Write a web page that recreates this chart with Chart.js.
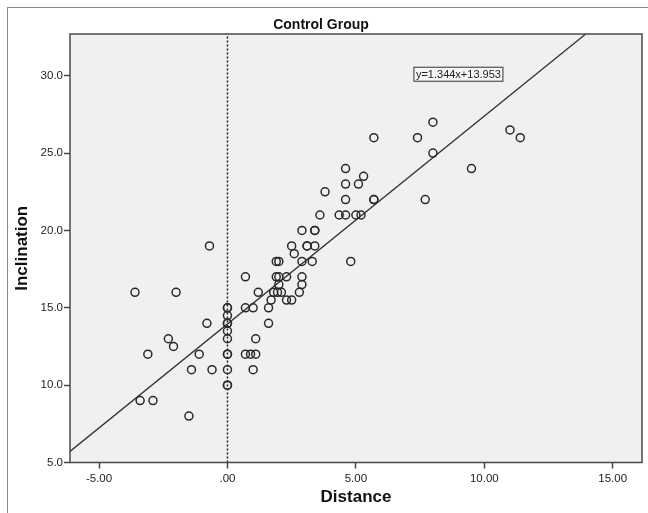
<!DOCTYPE html>
<html>
<head>
<meta charset="utf-8">
<script src="https://cdn.jsdelivr.net/npm/chart.js@4/dist/chart.umd.min.js"></script>
<style>
  html, body { margin: 0; padding: 0; background: #fff; overflow: hidden; }
  #wrap { position: relative; width: 648px; height: 513px; }
  #frame { position: absolute; left: 7px; top: 7px; width: 700px; height: 600px; border: 1px solid #8a8a8a; }
  canvas { position: absolute; left: 0; top: 0; }
</style>
</head>
<body>
<div id="wrap">
  <div id="frame"></div>
  <canvas id="scatterChart" width="648" height="513"></canvas>
</div>
<script>
// values
const distance = [
  -3.6, -2.0, -0.8, -0.7, -2.3, -2.1, -3.1, -1.1, -1.4, -0.6, -3.4, -2.9, -1.5,
  0, 0, 0, 0, 0, 0, 0, 0, 0, 0, 0, 0,
  0.7, 1.2, 0.7, 1.0, 1.6, 1.6, 1.1, 0.7, 0.9, 1.1, 1.0,
  5.7, 4.6, 5.3, 4.6, 5.1, 3.8, 4.6, 5.7, 5.7, 3.6, 4.35, 4.6, 5.0, 5.2,
  2.9, 3.4, 3.4, 2.5, 3.1, 3.1, 3.4, 2.6, 1.9, 2.0, 2.9, 3.3, 4.8,
  1.9, 2.0, 2.3, 2.9, 2.0, 2.9, 1.8, 1.95, 2.1, 2.8, 1.7, 2.3, 2.5,
  8.0, 7.4, 11.0, 11.4, 8.0, 9.5, 7.7
];
const inclination = [
  16, 16, 14, 19, 13, 12.5, 12, 12, 11, 11, 9, 9, 8,
  15, 15, 14.5, 14, 14, 13.5, 13, 12, 12, 11, 10, 10,
  17, 16, 15, 15, 15, 14, 13, 12, 12, 12, 11,
  26, 24, 23.5, 23, 23, 22.5, 22, 22, 22, 21, 21, 21, 21, 21,
  20, 20, 20, 19, 19, 19, 19, 18.5, 18, 18, 18, 18, 18,
  17, 17, 17, 17, 16.5, 16.5, 16, 16, 16, 16, 15.5, 15.5, 15.5,
  27, 26, 26.5, 26, 25, 24, 22
];

const fitSlope = 1.344;
const fitIntercept = 13.953;
const fitLabel = 'y=1.344x+13.953';

const xRange = [-6.13, 16.14];
const yRange = [5, 32.7];
const xTicks = [-5, 0, 5, 10, 15];
const yTicks = [5, 10, 15, 20, 25, 30];

const fontFamily = '"Liberation Sans", Arial, sans-serif';

const points = distance.map((d, i) => ({ x: d, y: inclination[i] }));
const fitLine = xRange.map(x => ({ x: x, y: fitSlope * x + fitIntercept }));
const zeroLine = yRange.map(y => ({ x: 0, y: y }));

// grey plot area, frame and the equation box
const plotFrame = {
  id: 'plotFrame',
  beforeDraw(chart) {
    const { ctx, chartArea: a } = chart;
    ctx.save();
    ctx.fillStyle = '#f0f0f0';
    ctx.fillRect(a.left, a.top, a.right - a.left, a.bottom - a.top);
    ctx.restore();
  },
  afterDraw(chart) {
    const { ctx, chartArea: a, scales: { x, y } } = chart;
    ctx.save();
    ctx.strokeStyle = '#4a4a4a';
    ctx.lineWidth = 1.5;
    ctx.strokeRect(a.left, a.top, a.right - a.left, a.bottom - a.top);

    ctx.font = '11px ' + fontFamily;
    const w = ctx.measureText(fitLabel).width;
    const lx = x.getPixelForValue(7.26);
    const ly = y.getPixelForValue(30.1);
    ctx.fillStyle = '#f6f6f6';
    ctx.fillRect(lx, ly - 7, w + 4, 14);
    ctx.lineWidth = 1;
    ctx.strokeStyle = '#333';
    ctx.strokeRect(lx, ly - 7, w + 4, 14);
    ctx.fillStyle = '#222';
    ctx.textBaseline = 'middle';
    ctx.fillText(fitLabel, lx + 2, ly + 0.5);
    ctx.restore();
  }
};

const ctx = document.getElementById('scatterChart').getContext('2d');
new Chart(ctx, {
  type: 'scatter',
  data: {
    datasets: [
      {
        label: 'Inclination',
        data: points,
        pointStyle: 'circle',
        pointRadius: 4,
        backgroundColor: 'rgba(0,0,0,0)',
        borderColor: '#2a2a2a',
        borderWidth: 1.5
      },
      {
        type: 'line',
        label: 'Fit',
        data: fitLine,
        borderColor: '#333',
        borderWidth: 1.3,
        pointRadius: 0,
        fill: false
      },
      {
        type: 'line',
        label: 'Zero',
        data: zeroLine,
        borderColor: '#222',
        borderWidth: 1.5,
        borderDash: [2, 2],
        pointRadius: 0,
        fill: false
      }
    ]
  },
  options: {
    responsive: false,
    animation: false,
    layout: { padding: { left: 0, right: 6, top: 0, bottom: 0 } },
    plugins: {
      legend: { display: false },
      tooltip: { enabled: false },
      title: {
        display: true,
        text: 'Control Group',
        color: '#111',
        font: { family: fontFamily, size: 14, weight: 'bold' },
        padding: { top: 16.5, bottom: 0.7 }
      }
    },
    scales: {
      x: {
        type: 'linear',
        min: xRange[0],
        max: xRange[1],
        afterFit: (s) => { s.height = 50.5; },
        afterBuildTicks: (s) => { s.ticks = xTicks.map(v => ({ value: v })); },
        ticks: {
          color: '#222',
          padding: 3,
          font: { family: fontFamily, size: 11.5 },
          callback: (v) => v === 0 ? '.00' : v.toFixed(2)
        },
        grid: { drawOnChartArea: false, tickLength: 6, tickColor: '#444', tickWidth: 1.5 },
        border: { display: false },
        title: {
          display: true,
          text: 'Distance',
          color: '#111',
          font: { family: fontFamily, size: 17, weight: 'bold' },
          padding: { top: 0, bottom: 5 }
        }
      },
      y: {
        type: 'linear',
        min: yRange[0],
        max: yRange[1],
        afterFit: (s) => { s.width = 70; },
        afterBuildTicks: (s) => { s.ticks = yTicks.map(v => ({ value: v })); },
        ticks: {
          color: '#222',
          padding: 1,
          font: { family: fontFamily, size: 11.5 },
          callback: (v) => v.toFixed(1)
        },
        grid: { drawOnChartArea: false, tickLength: 6, tickColor: '#444', tickWidth: 1.5 },
        border: { display: false },
        title: {
          display: true,
          text: 'Inclination',
          color: '#111',
          font: { family: fontFamily, size: 17, weight: 'bold' },
          padding: { top: 12, bottom: 0 }
        }
      }
    }
  },
  plugins: [plotFrame]
});
</script>
</body>
</html>
